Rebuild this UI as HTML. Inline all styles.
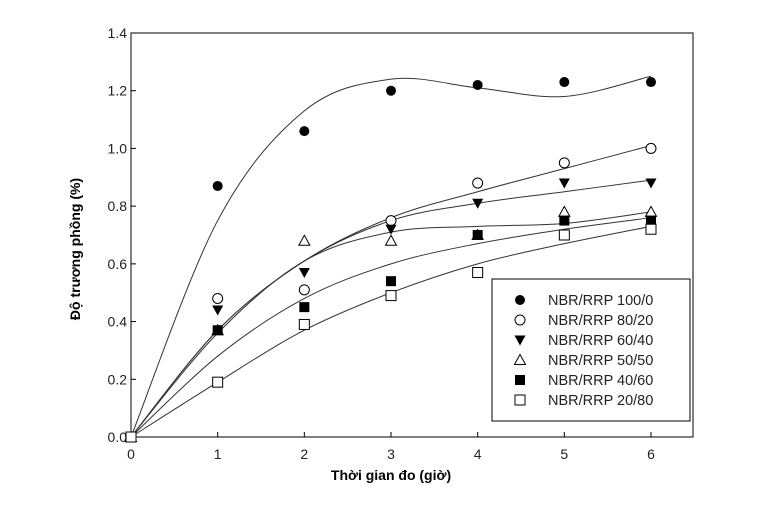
<!DOCTYPE html>
<html><head><meta charset="utf-8"><style>
body{margin:0;background:#fff;}
svg text{font-family:"Liberation Sans",sans-serif;}
</style></head><body>
<svg id="chart" width="773" height="506" viewBox="0 0 773 506" xmlns="http://www.w3.org/2000/svg">
<g id="axes"></g><g id="curves"></g><g id="points"></g><g id="legend"></g>
</svg>
<script>
const xTicks=[0,1,2,3,4,5,6];
const yTicks=[0,0.2,0.4,0.6,0.8,1.0,1.2,1.4];
const yTickLabels=["0.0","0.2","0.4","0.6","0.8","1.0","1.2","1.4"];
const seriesNames=["NBR/RRP 100/0","NBR/RRP 80/20","NBR/RRP 60/40","NBR/RRP 50/50","NBR/RRP 40/60","NBR/RRP 20/80"];
const pts100=[0,0.87,1.06,1.20,1.22,1.23,1.23];
const pts80=[0,0.48,0.51,0.75,0.88,0.95,1.00];
const pts60=[0,0.44,0.57,0.72,0.81,0.88,0.88];
const pts50=[0,0.37,0.68,0.68,0.70,0.78,0.78];
const pts40=[0,0.37,0.45,0.54,0.70,0.75,0.75];
const pts20=[0,0.19,0.39,0.49,0.57,0.70,0.72];
const fit100=[0,0.75,1.13,1.24,1.21,1.18,1.25];
const fit80=[0,0.37,0.61,0.76,0.85,0.93,1.01];
const fit60=[0,0.37,0.61,0.75,0.81,0.85,0.89];
const fit50=[0,0.36,0.61,0.71,0.73,0.74,0.78];
const fit40=[0,0.28,0.48,0.60,0.67,0.72,0.76];
const fit20=[0,0.19,0.37,0.50,0.60,0.67,0.73];

const NS="http://www.w3.org/2000/svg";
const X0=131,X1=651,Y0=437,Y1=33;
const sx=v=>X0+(X1-X0)*v/6, sy=v=>Y0-(Y0-Y1)*v/1.4;
function mk(tag,attrs,parent){const e=document.createElementNS(NS,tag);for(const k in attrs)e.setAttribute(k,attrs[k]);parent.appendChild(e);return e;}
const axes=document.getElementById('axes');
const frame=mk('rect',{x:X0,y:Y1,width:693-X0,height:Y0-Y1,fill:'none',stroke:'#000','stroke-width':1},axes);


xTicks.forEach(t=>{
 const l=mk('line',{x1:sx(t),x2:sx(t),y1:Y0,y2:Y0-5,stroke:'#000'},axes);
 
 
 const tx=mk('text',{x:sx(t),y:Y0+22,'text-anchor':'middle','font-size':14,fill:'#222'},axes);
 tx.textContent=t;
 
 
});
yTicks.forEach((t,i)=>{
 const l=mk('line',{x1:X0,x2:X0+5,y1:sy(t),y2:sy(t),stroke:'#000'},axes);
 
 
 const tx=mk('text',{x:X0-4,y:sy(t)+5,'text-anchor':'end','font-size':14,fill:'#222'},axes);
 tx.textContent=yTickLabels[i];
 
 
});
const xt=mk('text',{x:391,y:480,'text-anchor':'middle','font-size':14,'font-weight':'bold'},axes);
xt.textContent="Thời gian đo  (giờ)";


const yt=mk('text',{x:0,y:0,'text-anchor':'middle','font-size':14,'font-weight':'bold',transform:'translate(80,249) rotate(-90)'},axes);
yt.textContent="Độ trương phồng (%)";



function spline(vals){
 const p=vals.map((v,i)=>[sx(i),sy(v)]);
 let d=`M${p[0][0]},${p[0][1]}`;
 for(let i=0;i<p.length-1;i++){
  const a=p[Math.max(i-1,0)],b=p[i],c=p[i+1],e=p[Math.min(i+2,p.length-1)];
  d+=` C${b[0]+(c[0]-a[0])/6},${b[1]+(c[1]-a[1])/6} ${c[0]-(e[0]-b[0])/6},${c[1]-(e[1]-b[1])/6} ${c[0]},${c[1]}`;
 }
 return d;
}
const fits=[fit100,fit80,fit60,fit50,fit40,fit20];
const ptsAll=[pts100,pts80,pts60,pts50,pts40,pts20];
const curves=document.getElementById('curves');
fits.forEach((f,i)=>{
 const p=mk('path',{d:spline(f),fill:'none',stroke:'#333','stroke-width':1},curves);
 
 
});
function marker(kind,x,y,parent){
 let e;
 if(kind===0) e=mk('circle',{cx:x,cy:y,r:5,fill:'#000'},parent);
 else if(kind===1) e=mk('circle',{cx:x,cy:y,r:5,fill:'#fff',stroke:'#000'},parent);
 else if(kind===2) e=mk('path',{d:`M${x-5.5},${y-4.5} L${x+5.5},${y-4.5} L${x},${y+5.5}Z`,fill:'#000'},parent);
 else if(kind===3) e=mk('path',{d:`M${x-5.5},${y+4.5} L${x+5.5},${y+4.5} L${x},${y-5.5}Z`,fill:'#fff',stroke:'#000'},parent);
 else if(kind===4) e=mk('rect',{x:x-5,y:y-5,width:10,height:10,fill:'#000'},parent);
 else e=mk('rect',{x:x-5,y:y-5,width:10,height:10,fill:'#fff',stroke:'#000'},parent);
 return e;
}
const points=document.getElementById('points');
ptsAll.forEach((s,k)=>{
 s.forEach((v,i)=>{
  const m=marker(k,sx(i),sy(v),points);
  
  
 });
});
const lg=document.getElementById('legend');
const box=mk('rect',{x:492,y:279,width:198,height:142,fill:'#fff',stroke:'#000'},lg);


seriesNames.forEach((n,k)=>{
 const y=300+k*20;
 const m=marker(k,520,y,lg);
 
 
 const t=mk('text',{x:548,y:y+5,'font-size':14.5,fill:'#222'},lg);
 t.textContent=n;
 
 
});
</script>
</body></html>
